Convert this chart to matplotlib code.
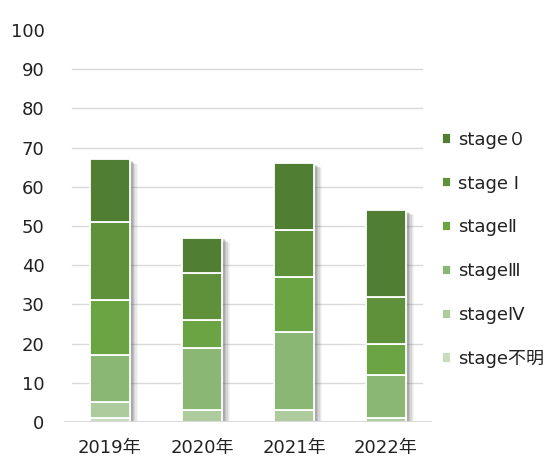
import matplotlib
matplotlib.use("Agg")
import matplotlib.pyplot as plt
import matplotlib.patheffects as pe
import numpy as np

plt.rcParams['font.family'] = ['DejaVu Sans', 'Noto Sans CJK JP']

# data
years = ["2019年", "2020年", "2021年", "2022年"]
stage_labels = ["stage不明", "stageⅣ", "stageⅢ", "stageⅡ", "stage Ⅰ", "stage０"]
unknown = [1, 0, 0, 0]
stage4 = [4, 3, 3, 1]
stage3 = [12, 16, 20, 11]
stage2 = [14, 7, 14, 8]
stage1 = [20, 12, 12, 12]
stage0 = [16, 9, 17, 22]
series = [unknown, stage4, stage3, stage2, stage1, stage0]
colors = ["#C8DCBE", "#AECB9E", "#8AB874", "#6BA443", "#5E913A", "#507E32"]

fig = plt.figure(figsize=(5.51, 4.62), dpi=100)
ax = fig.add_axes([0.116, 0.0866, 0.668, 0.8485])

x = np.arange(len(years))
width = 0.435
totals = np.sum(series, axis=0)

# soft shadow behind each stacked bar
for off, a in [(2, 0.20), (3, 0.15), (4, 0.11), (5, 0.08), (6, 0.05)]:
    ax.bar(x, totals, width, color="none", edgecolor="none", zorder=2,
           path_effects=[pe.SimplePatchShadow(offset=(off, -off * 0.6),
                                              shadow_rgbFace="#505050", alpha=a)])

bottom = np.zeros(len(years))
handles = []
for vals, col, lab in zip(series, colors, stage_labels):
    b = ax.bar(x, vals, width, bottom=bottom, color=col, edgecolor="white",
               linewidth=1.3, label=lab, zorder=3)
    handles.append(b)
    bottom += np.array(vals)

# grid lines (slightly inset like the original)
for y in range(10, 100, 10):
    ax.axhline(y, xmin=0.022, xmax=0.973, color="#D9D9D9", linewidth=1.0, zorder=1)
ax.axhline(0, color="#D9D9D9", linewidth=1.5, zorder=4)

ax.set_xlim(-0.5, len(years) - 0.5)
ax.set_ylim(0, 100)
ax.set_yticks(range(0, 101, 10))
ax.set_xticks(x)
ax.set_xticklabels(years)
ax.tick_params(axis="both", length=0, labelsize=13, colors="#222222")
ax.tick_params(axis="y", pad=14)
ax.tick_params(axis="x", pad=12)
for s in ax.spines.values():
    s.set_visible(False)

leg = fig.legend(handles[::-1], stage_labels[::-1], loc="upper left",
                 bbox_to_anchor=(0.773, 0.752), frameon=False, fontsize=13,
                 handlelength=0.5, handleheight=0.5, handletextpad=0.4,
                 labelspacing=1.43)
for t in leg.get_texts():
    t.set_color("#222222")

fig.savefig("out.png", dpi=100)
